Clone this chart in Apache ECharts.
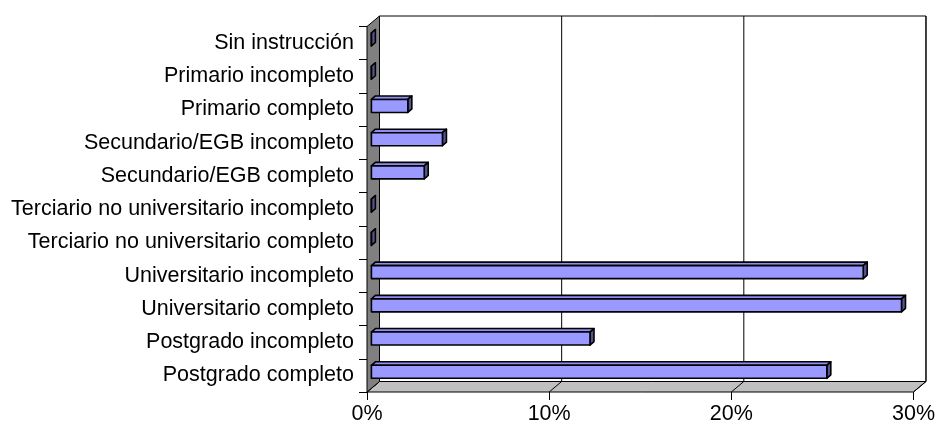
<!DOCTYPE html>
<html>
<head>
<meta charset="utf-8">
<script src="https://cdn.jsdelivr.net/npm/echarts@6/dist/echarts.min.js"></script>
<style>
  html, body { margin: 0; padding: 0; background: #fff; }
  #chart { width: 938px; height: 428px; }
</style>
</head>
<body>
<div id="chart"></div>
<script>
// Nivel educativo (porcentaje de respuestas)
const categories = [
  'Sin instrucción',
  'Primario incompleto',
  'Primario completo',
  'Secundario/EGB incompleto',
  'Secundario/EGB completo',
  'Terciario no universitario incompleto',
  'Terciario no universitario completo',
  'Universitario incompleto',
  'Universitario completo',
  'Postgrado incompleto',
  'Postgrado completo'
];
const values = [0, 0, 2.0, 3.9, 2.9, 0, 0, 27.0, 29.1, 12.0, 25.0];
const xTicks = [0, 10, 20, 30];

// Oblique depth of the box (walls) and of the bars inside it
const DEPTH = [12.5, -10.5];
const BAR_OFF = [4.4, -3.6];
const BAR_DEPTH = [4, -3.5];
const BAR_H = 13;

const FONT = 'Liberation Sans, Arial, sans-serif';

function wallsRenderItem(params, api) {
  const band = api.size([0, 1])[1];
  const first = api.coord([0, 0]);
  const last = api.coord([0, categories.length - 1]);
  const yTop = first[1] - band / 2;
  const yBot = last[1] + band / 2;
  const xs = xTicks.map(v => api.coord([v, 0])[0]);
  const x0 = xs[0], x1 = xs[xs.length - 1];
  const dx = DEPTH[0], dy = DEPTH[1];
  const children = [];
  // back wall
  children.push({
    type: 'polygon',
    shape: { points: [[x0 + dx, yTop + dy], [x1 + dx, yTop + dy], [x1 + dx, yBot + dy], [x0 + dx, yBot + dy]] },
    style: { fill: '#ffffff', stroke: '#000', lineWidth: 1 }
  });
  // back wall gridlines
  xs.forEach(x => {
    children.push({
      type: 'line',
      shape: { x1: x + dx, y1: yTop + dy, x2: x + dx, y2: yBot + dy },
      style: { stroke: '#000', lineWidth: 1 }
    });
  });
  // floor
  children.push({
    type: 'polygon',
    shape: { points: [[x0, yBot], [x0 + dx, yBot + dy], [x1 + dx, yBot + dy], [x1, yBot]] },
    style: { fill: '#c0c0c0', stroke: '#000', lineWidth: 1 }
  });
  xs.forEach(x => {
    children.push({
      type: 'line',
      shape: { x1: x, y1: yBot, x2: x + dx, y2: yBot + dy },
      style: { stroke: '#000', lineWidth: 1 }
    });
  });
  // side wall
  children.push({
    type: 'polygon',
    shape: { points: [[x0, yTop], [x0 + dx, yTop + dy], [x0 + dx, yBot + dy], [x0, yBot]] },
    style: { fill: '#808080', stroke: '#000', lineWidth: 1 }
  });
  return { type: 'group', children };
}

function barRenderItem(params, api) {
  const idx = api.value(0);
  const val = api.value(1);
  const p0 = api.coord([0, idx]);
  const p1 = api.coord([val, idx]);
  const xl = p0[0] + BAR_OFF[0];
  const xr = p1[0] + BAR_OFF[0];
  const cy = p0[1] + BAR_OFF[1];
  const yt = cy - BAR_H / 2;
  const yb = cy + BAR_H / 2;
  const bx = BAR_DEPTH[0], by = BAR_DEPTH[1];
  const line = { stroke: '#000', lineWidth: 1.6, lineJoin: 'round' };
  return {
    type: 'group',
    children: [
      {
        type: 'polygon',
        shape: { points: [[xl, yt], [xl + bx, yt + by], [xr + bx, yt + by], [xr, yt]] },
        style: Object.assign({ fill: '#8f8ff2' }, line)
      },
      {
        type: 'polygon',
        shape: { points: [[xr, yt], [xr + bx, yt + by], [xr + bx, yb + by], [xr, yb]] },
        style: Object.assign({ fill: '#555592' }, line)
      },
      {
        type: 'rect',
        shape: { x: xl, y: yt, width: Math.max(xr - xl, 0), height: BAR_H },
        style: Object.assign({ fill: '#9999ff' }, line)
      }
    ]
  };
}

const chart = echarts.init(document.getElementById('chart'), null, { renderer: 'canvas' });
chart.setOption({
  animation: false,
  backgroundColor: '#ffffff',
  grid: { left: 367, right: 23, top: 26.5, bottom: 36, containLabel: false },
  xAxis: {
    type: 'value',
    min: 0,
    max: 30,
    interval: 10,
    axisLine: { show: false },
    axisTick: { show: true, length: 8, lineStyle: { color: '#000' } },
    splitLine: { show: false },
    axisLabel: {
      formatter: '{value}%',
      color: '#000',
      fontFamily: FONT,
      fontSize: 21.5,
      margin: 11
    }
  },
  yAxis: {
    type: 'category',
    inverse: true,
    data: categories,
    axisLine: { show: true, lineStyle: { color: '#000' } },
    axisTick: { show: true, length: 8, lineStyle: { color: '#000' } },
    axisLabel: {
      color: '#000',
      fontFamily: FONT,
      fontSize: 21.5,
      margin: 13
    }
  },
  series: [
    {
      type: 'custom',
      z: 1,
      renderItem: wallsRenderItem,
      data: [[0, 0]],
      silent: true
    },
    {
      type: 'custom',
      z: 3,
      renderItem: barRenderItem,
      encode: { x: 1, y: 0 },
      data: values.map((v, i) => [i, v])
    }
  ]
});
</script>
</body>
</html>
